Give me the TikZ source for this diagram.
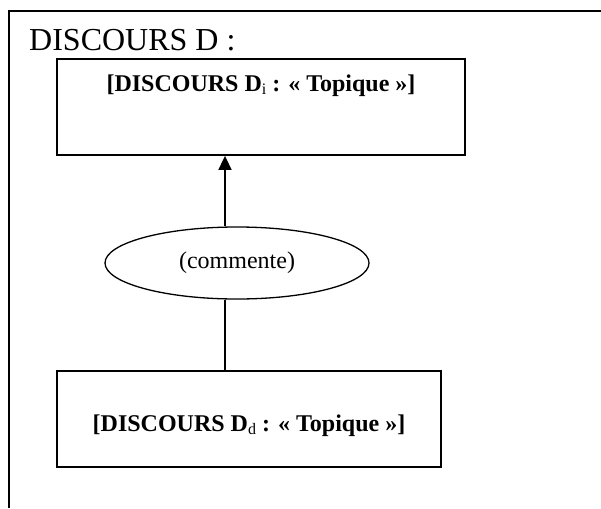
\documentclass[tikz,border=0pt]{standalone}
\usepackage{fontspec}
\setmainfont{Liberation Serif}
\usetikzlibrary{shapes.geometric,arrows.meta}
\begin{document}
\begin{tikzpicture}[x=1pt,y=-1pt,
  boxstyle/.style={draw,line width=1.8pt,inner sep=0pt,rectangle},
  labstyle/.style={inner sep=0pt,anchor=base,font=\fontsize{24}{28}\selectfont\bfseries},
  linkstyle/.style={line width=1.7pt}]
\useasboundingbox (0,0) rectangle (601,508);
\draw[line width=1.8pt] (601,11) -- (9,11) -- (9,508);
\node[inner sep=0pt,anchor=base west,font=\fontsize{32}{38}\selectfont] (title) at (29,51) {DISCOURS D :};
\node[boxstyle,minimum width=408pt,minimum height=96pt] (topbox) at (261,107) {};
\node[labstyle] (toplab) at (261,92) {[DISCOURS D\raisebox{-3pt}{\fontsize{16}{16}\selectfont\mdseries i} : « Topique »]};
\node[boxstyle,minimum width=384pt,minimum height=96pt] (botbox) at (249,419) {};
\node[labstyle] (botlab) at (249,431) {[DISCOURS D\raisebox{-3pt}{\fontsize{16}{16}\selectfont\mdseries d} : « Topique »]};
\node[ellipse,draw,line width=1.3pt,minimum width=264pt,minimum height=72pt,inner sep=0pt,font=\fontsize{24}{28}\selectfont] (ell) at (237,263) {(commente)};
\coordinate (cx) at (225,0);
\draw[linkstyle,-{Triangle[width=13pt,length=14pt]}] (ell.north -| cx) -- (topbox.south -| cx);
\draw[linkstyle] (ell.south -| cx) -- (botbox.north -| cx);
\end{tikzpicture}
\end{document}
